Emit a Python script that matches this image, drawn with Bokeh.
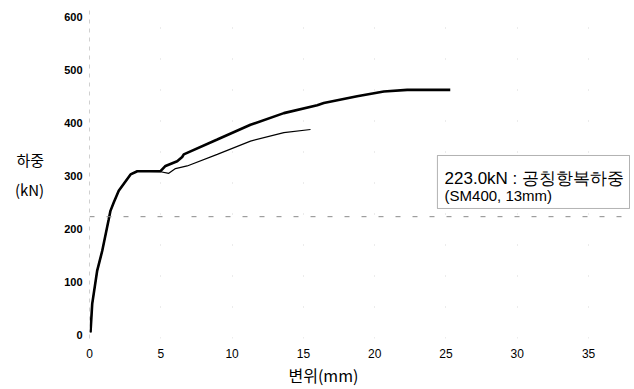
from bokeh.plotting import figure
from bokeh.models import Range1d, FixedTicker, Label, BoxAnnotation, Span, Title
from bokeh.embed import file_html
from bokeh.resources import INLINE

# --- data (displacement mm, load kN) ---
rise_disp = [0.07, 0.19, 0.54, 0.89, 1.35, 1.47, 1.70, 2.05, 2.88, 3.35]
rise_load = [4, 58, 121, 158, 218, 234, 250, 272, 303, 309]

thick_disp = [4.98, 5.33, 6.15, 6.50, 6.61, 8.96, 11.29, 13.63, 15.97, 16.43, 18.77, 20.64, 22.28, 25.3]
thick_load = [309, 319, 328, 336, 341, 369, 397, 419, 434, 438, 451, 460, 463, 463]

thin_disp = [4.98, 5.56, 6.03, 6.85, 8.96, 11.29, 13.63, 15.5]
thin_load = [308, 305, 314, 319, 341, 366, 382, 388]

yield_load = 223.0
x_ticks = [0, 5, 10, 15, 20, 25, 30, 35]
y_ticks = [0, 100, 200, 300, 400, 500, 600]

s1_x = rise_disp + thick_disp
s1_y = rise_load + thick_load
s2_x = rise_disp + thin_disp
s2_y = rise_load + thin_load

p = figure(width=632, height=388, output_backend="svg", toolbar_location=None,
           x_range=Range1d(0, 37.94), y_range=Range1d(-7.57, 613.2),
           min_border_left=89, min_border_right=2, min_border_top=10, min_border_bottom=50)
p.outline_line_color = None
p.background_fill_color = "white"
p.border_fill_color = "white"

p.xgrid.grid_line_color = "#d8d8d8"
p.xgrid.grid_line_dash = "1 30"
p.ygrid.grid_line_color = None

p.xaxis.ticker = FixedTicker(ticks=x_ticks)
p.yaxis.ticker = FixedTicker(ticks=y_ticks)
for ax in (p.xaxis[0], p.yaxis[0]):
    ax.major_tick_line_color = None
    ax.minor_tick_line_color = None
    ax.major_tick_out = 0
    ax.major_tick_in = 0
    ax.minor_tick_out = 0
    ax.major_label_text_color = "black"
    ax.major_label_text_font = "Liberation Sans"
p.xaxis.axis_line_color = None
p.yaxis.axis_line_color = "#d0d0d0"
p.yaxis.axis_line_dash = "4 5"
p.xaxis.major_label_standoff = 10
p.yaxis.major_label_standoff = 7
p.xaxis.major_label_text_font_size = "12px"
p.yaxis.major_label_text_font_size = "11px"
p.yaxis.major_label_text_font_style = "bold"

# y axis title, horizontal, two lines
p.yaxis.axis_label = "하중\n(kN)"
p.yaxis.axis_label_orientation = "horizontal"
p.yaxis.axis_label_text_font = "Noto Sans CJK KR"
p.yaxis.axis_label_text_font_size = "15px"
p.yaxis.axis_label_text_font_style = "normal"
p.yaxis.axis_label_text_color = "black"
p.yaxis.axis_label_text_line_height = 1.45
p.yaxis.axis_label_standoff = 17

# x axis title as a title below the plot
p.add_layout(Title(text="변위(mm)", align="left", offset=199,
                   text_font="Noto Sans CJK KR", text_font_size="16px",
                   text_font_style="normal", text_color="black",
                   standoff=0), "below")

# yield line
p.add_layout(Span(location=yield_load, dimension="width", line_color="#8a8a8a",
                  line_width=1, line_dash="5 12"))

# curves
p.line(s2_x, s2_y, line_color="black", line_width=1.2)
p.line(s1_x, s1_y, line_color="black", line_width=2.6)

# annotation box
p.add_layout(BoxAnnotation(left=24.40, right=37.87, top=338.8, bottom=238.5,
                           fill_color="white", fill_alpha=1.0,
                           line_color="black", line_width=1))
p.add_layout(Label(x=24.9, y=295.3, text="223.0kN : 공칭항복하중",
                   text_font="Liberation Sans", text_font_size="17px",
                   text_color="black", text_baseline="alphabetic"))
p.add_layout(Label(x=24.9, y=263, text="(SM400, 13mm)",
                   text_font="Liberation Sans", text_font_size="15px",
                   text_color="black", text_baseline="alphabetic"))

open("out.html", "w").write(file_html(p, INLINE))
